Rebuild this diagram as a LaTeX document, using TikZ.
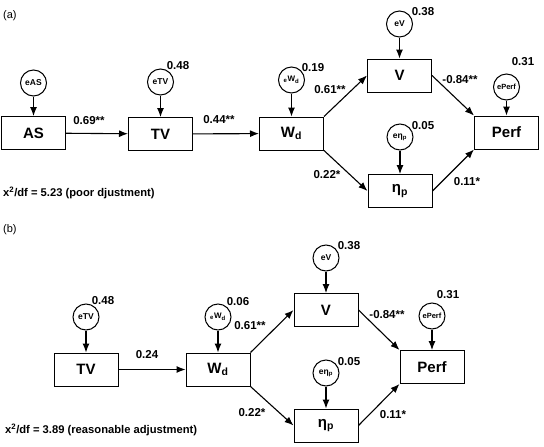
\documentclass[tikz,border=0pt]{standalone}
\usepackage{fontspec}
\setmainfont{Liberation Sans}
\usetikzlibrary{arrows.meta}
\tikzset{
  box/.style={draw, line width=1pt, minimum width=64pt, minimum height=33pt, inner sep=0pt, font=\bfseries\fontsize{15}{16}\selectfont},
  err/.style={draw, circle, line width=1pt, minimum size=26pt, inner sep=0pt, font=\bfseries\fontsize{8.5}{9}\selectfont},
  num/.style={inner sep=0pt, font=\bfseries\fontsize{11.5}{12}\selectfont},
  arr/.style={line width=1.1pt, -{Latex[length=9pt,width=7pt]}},
  tag/.style={inner sep=0pt, anchor=west, font=\fontsize{11}{12}\selectfont},
  chi/.style={inner sep=0pt, anchor=west, font=\bfseries\fontsize{11.2}{12}\selectfont}
}
\begin{document}
\begin{tikzpicture}[x=1pt,y=-1pt]
\useasboundingbox (0,0) rectangle (544,447);
% ---------------- panel (a)
\node[tag] (ta) at (3,16) {(a)};
\node[box] (AS) at (33.5,133) {AS};
\node[box] (TV) at (160.5,134) {TV};
\node[box] (Wd) at (291.5,133.5) {W\textsubscript{d}};
\node[box] (V) at (399.5,75.5) {V};
\node[box] (Pf) at (506.5,132.5) {Perf};
\node[box] (Et) at (400,191) {η\textsubscript{p}};
\node[err] (eAS) at (33.5,83) {eAS};
\node[err] (eTV) at (160.5,82) {eTV};
\node[err, font=\bfseries\fontsize{8}{8}\selectfont] (eWd) at (291.5,80) {\textsubscript{e}W\textsubscript{d}};
\node[err] (eV) at (399.5,24) {eV};
\node[err, font=\bfseries\fontsize{7.5}{8}\selectfont] (ePf) at (506.5,87) {ePerf};
\node[err] (eEt) at (400,137) {eη\textsubscript{p}};
\draw[arr] (eAS) -- (AS);
\draw[arr] (eTV) -- (TV);
\draw[arr] (eWd) -- (Wd);
\draw[arr] (eV) -- (V);
\draw[arr] (ePf) -- (Pf);
\draw[arr] (eEt) -- (Et);
\draw[arr] (AS) -- (TV);
\draw[arr] (TV) -- (Wd);
\draw[arr] (Wd.north east) -- (V.west);
\draw[arr] (Wd.south east) -- (Et.west);
\draw[arr] (V.east) -- (Pf.north west);
\draw[arr] (Et.east) -- (Pf.south west);
\node[num] (n1) at (178,66) {0.48};
\node[num] (n2) at (313,68) {0.19};
\node[num] (n3) at (423,12) {0.38};
\node[num] (n4) at (523,62) {0.31};
\node[num] (n5) at (423,126) {0.05};
\node[num] (l1) at (89,121) {0.69**};
\node[num] (l2) at (219,120) {0.44**};
\node[num] (l3) at (330,90) {0.61**};
\node[num] (l4) at (460,80) {-0.84**};
\node[num] (l5) at (327,175) {0.22*};
\node[num] (l6) at (467,182) {0.11*};
\node[chi] (ca) at (3,193) {x\textsuperscript{2}/df = 5.23 (poor djustment)};
% ---------------- panel (b)
\node[tag] (tb) at (3,230) {(b)};
\node[box] (TVb) at (86,369.5) {TV};
\node[box] (Wdb) at (218,369.5) {W\textsubscript{d}};
\node[box] (Vb) at (326,310) {V};
\node[box] (Pfb) at (432,367) {Perf};
\node[box] (Etb) at (326,425.5) {η\textsubscript{p}};
\node[err] (eTVb) at (86,317) {eTV};
\node[err, font=\bfseries\fontsize{8}{8}\selectfont] (eWdb) at (218,317) {\textsubscript{e}W\textsubscript{d}};
\node[err] (eVb) at (326,258) {eV};
\node[err, font=\bfseries\fontsize{7.5}{8}\selectfont] (ePfb) at (432,316) {ePerf};
\node[err] (eEtb) at (326,373) {eη\textsubscript{p}};
\draw[arr] (eTVb) -- (TVb);
\draw[arr] (eWdb) -- (Wdb);
\draw[arr] (eVb) -- (Vb);
\draw[arr] (ePfb) -- (Pfb);
\draw[arr] (eEtb) -- (Etb);
\draw[arr] (TVb) -- (Wdb);
\draw[arr] (Wdb.north east) -- (Vb.west);
\draw[arr] (Wdb.south east) -- (Etb.west);
\draw[arr] (Vb.east) -- (Pfb.north west);
\draw[arr] (Etb.east) -- (Pfb.south west);
\node[num] (m1) at (103,301) {0.48};
\node[num] (m2) at (238,302) {0.06};
\node[num] (m3) at (349,246) {0.38};
\node[num] (m4) at (448,295) {0.31};
\node[num] (m5) at (349,362) {0.05};
\node[num] (k1) at (147,355) {0.24};
\node[num] (k2) at (250,326) {0.61**};
\node[num] (k3) at (252,413) {0.22*};
\node[num] (k4) at (387,315) {-0.84**};
\node[num] (k5) at (393,415) {0.11*};
\node[chi] (cb) at (5,430) {x\textsuperscript{2}/df = 3.89 (reasonable adjustment)};
\end{tikzpicture}
\end{document}
